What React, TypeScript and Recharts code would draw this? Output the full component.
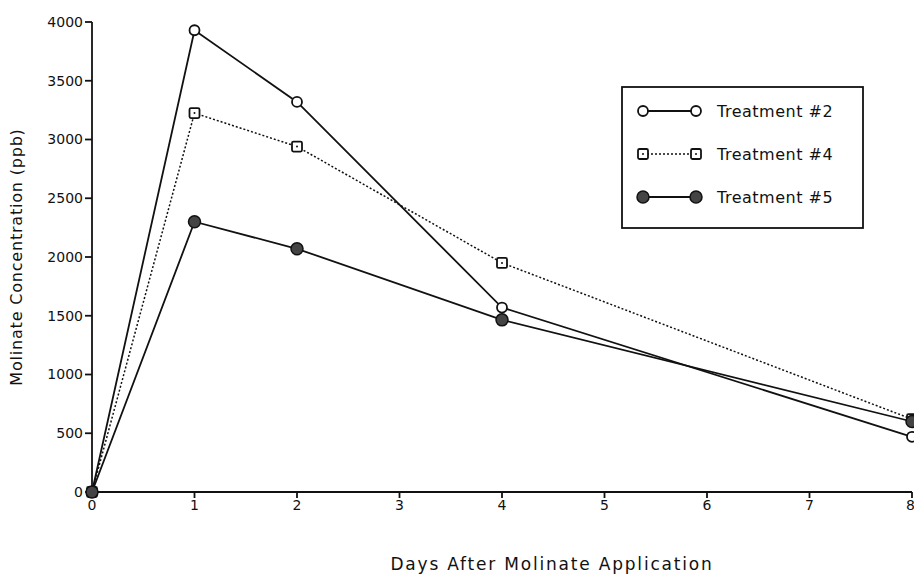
import { LineChart, Line, XAxis, YAxis } from 'recharts';

const days = [0, 1, 2, 4, 8];
const treatment2 = [0, 3930, 3320, 1570, 470];
const treatment4 = [0, 3225, 2940, 1950, 620];
const treatment5 = [0, 2300, 2070, 1465, 600];
const xTicks = [0, 1, 2, 3, 4, 5, 6, 7, 8];
const yTicks = [0, 500, 1000, 1500, 2000, 2500, 3000, 3500, 4000];
const seriesNames = ['Treatment #2', 'Treatment #4', 'Treatment #5'];

const data = days.map((day, i) => ({
  day,
  t2: treatment2[i],
  t4: treatment4[i],
  t5: treatment5[i],
}));

const font = '"DejaVu Sans", sans-serif';

function OpenCircle(props: any) {
  const { cx, cy } = props;
  return <circle cx={cx} cy={cy} r={5} fill="#fff" stroke="#111" strokeWidth={1.8} />;
}

function DotSquare(props: any) {
  const { cx, cy } = props;
  return (
    <g>
      <rect x={cx - 5} y={cy - 5} width={10} height={10} rx={1.5} fill="#fff" stroke="#111" strokeWidth={1.8} />
      <circle cx={cx} cy={cy} r={1} fill="#111" />
    </g>
  );
}

function FilledCircle(props: any) {
  const { cx, cy } = props;
  return <circle cx={cx} cy={cy} r={6} fill="#444" stroke="#111" strokeWidth={1.5} />;
}

// legend drawn over the chart, outside recharts layout
function LegendBox() {
  const rows = [
    { name: seriesNames[0], dash: undefined, Marker: OpenCircle },
    { name: seriesNames[1], dash: '2 2', Marker: DotSquare },
    { name: seriesNames[2], dash: undefined, Marker: FilledCircle },
  ];
  return (
    <svg width={244} height={144} style={{ display: 'block' }}>
      <rect x={1} y={1} width={241} height={141} fill="#fff" stroke="#111" strokeWidth={1.8} />
      {rows.map((r, i) => {
        const y = 25 + i * 43;
        return (
          <g key={r.name}>
            <line x1={22} y1={y} x2={75} y2={y} stroke="#111" strokeWidth={r.dash ? 1.5 : 1.8} strokeDasharray={r.dash} />
            <r.Marker cx={22} cy={y} />
            <r.Marker cx={75} cy={y} />
            <text x={96} y={y + 6} fontFamily={font} fontSize={16} fill="#111" letterSpacing={0.5}>
              {r.name}
            </text>
          </g>
        );
      })}
    </svg>
  );
}

export default function App() {
  return (
    <div style={{ position: 'absolute', left: 0, top: 0, width: 914, height: 574, background: '#fff' }}>
      <LineChart width={914} height={574} data={data} margin={{ top: 22, right: 2, left: 0, bottom: 0 }}>
        <XAxis
          dataKey="day"
          type="number"
          domain={[0, 8]}
          ticks={xTicks}
          height={82}
          stroke="#111"
          strokeWidth={1.8}
          tickSize={6}
          tick={{ fill: '#111', fontSize: 14, fontFamily: font }}
          label={{ value: 'Days After Molinate Application', position: 'insideBottom', offset: 4, dx: 50, fill: '#111', fontSize: 17, fontFamily: font, letterSpacing: 1.8 }}
        />
        <YAxis
          type="number"
          domain={[0, 4000]}
          ticks={yTicks}
          width={92}
          stroke="#111"
          strokeWidth={1.8}
          tickSize={7}
          tick={{ fill: '#111', fontSize: 14, fontFamily: font }}
          label={{ value: 'Molinate Concentration (ppb)', angle: -90, position: 'insideLeft', offset: 16, fill: '#111', fontSize: 16, fontFamily: font, letterSpacing: 0.8, style: { textAnchor: 'middle' } }}
        />
        <Line name={seriesNames[0]} dataKey="t2" stroke="#111" strokeWidth={1.8} dot={<OpenCircle />} isAnimationActive={false} />
        <Line name={seriesNames[1]} dataKey="t4" stroke="#111" strokeWidth={1.5} strokeDasharray="2 2" dot={<DotSquare />} isAnimationActive={false} />
        <Line name={seriesNames[2]} dataKey="t5" stroke="#111" strokeWidth={1.8} dot={<FilledCircle />} isAnimationActive={false} />
      </LineChart>
      <div style={{ position: 'absolute', left: 621, top: 86 }}>
        <LegendBox />
      </div>
    </div>
  );
}
